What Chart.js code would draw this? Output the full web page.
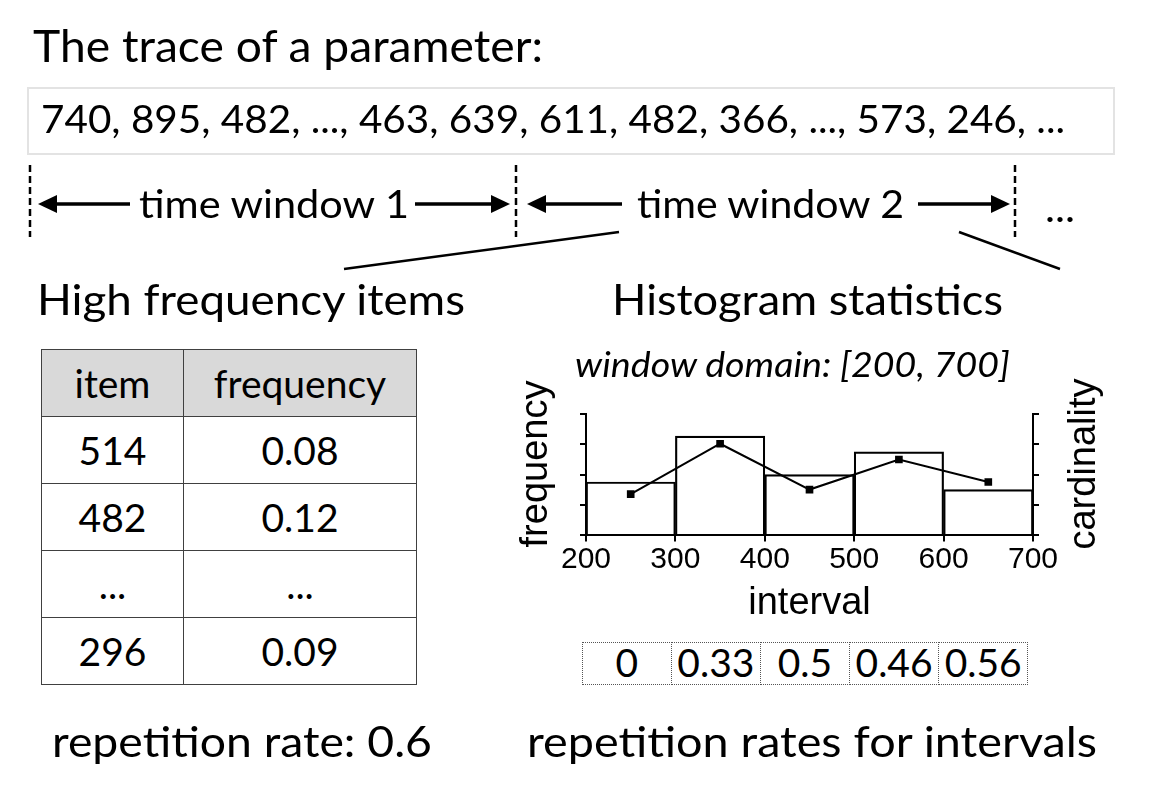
<!DOCTYPE html>
<html>
<head>
<meta charset="utf-8">
<script src="https://cdn.jsdelivr.net/npm/chart.js@4.4.0/dist/chart.umd.min.js"></script>
<style>
  html, body { margin: 0; padding: 0; background: #fff; }
  body { width: 1158px; height: 796px; position: relative; overflow: hidden;
         font-family: Lato, "Open Sans", sans-serif; color: #000; }
  .t { position: absolute; white-space: nowrap; line-height: 1; transform-origin: 0 0; }
  #traceBox { position: absolute; left: 27px; top: 87px; width: 1088px; height: 68px;
              border: 2px solid #e3e3e3; box-sizing: border-box; }
  #items { position: absolute; left: 41px; top: 349px; border-collapse: collapse; }
  #items td { border: 1.5px solid #404040; text-align: center; font-size: 39px;
              padding: 0; height: 66px; line-height: 1; }
  #items tr:first-child td { background: #d9d9d9; }
  #rates { position: absolute; left: 583px; top: 642px; display: flex; }
  #rates div { width: 90.6px; height: 43px; box-sizing: border-box; border: 1.5px dotted #555;
               margin-left: -1.5px; font-size: 39px; line-height: 1; display: flex;
               justify-content: center; align-items: flex-end; padding-bottom: 2px; }
  #chartBox { position: absolute; left: 500px; top: 340px; width: 620px; height: 290px; }
  svg { position: absolute; left: 0; top: 0; }
</style>
</head>
<body>
<div id="traceBox"></div>
<table id="items"></table>
<div id="rates"></div>
<div id="chartBox"><canvas id="histChart" width="620" height="290"></canvas></div>
<svg width="1158" height="796">
  <g stroke="#000" stroke-width="2.5" stroke-dasharray="7 4">
    <line x1="30" y1="165" x2="30" y2="237"/>
    <line x1="516" y1="165" x2="516" y2="237"/>
    <line x1="1015" y1="165" x2="1015" y2="237"/>
  </g>
  <g stroke="#000" stroke-width="3.5">
    <line x1="54" y1="204" x2="130" y2="204"/>
    <line x1="415" y1="204" x2="494" y2="204"/>
    <line x1="543" y1="204" x2="622" y2="204"/>
    <line x1="918" y1="204" x2="994" y2="204"/>
    <line x1="619" y1="232" x2="344" y2="269" stroke-width="2.5"/>
    <line x1="959" y1="232" x2="1060" y2="269" stroke-width="2.5"/>
  </g>
  <g fill="#000">
    <polygon points="38,204 57,195 57,213"/>
    <polygon points="510,204 491,195 491,213"/>
    <polygon points="527,204 546,195 546,213"/>
    <polygon points="1010,204 991,195 991,213"/>
  </g>
</svg>
<script>
// trace of the parameter
const traceValues = ['740', '895', '482', '...', '463', '639', '611', '482', '366', '...', '573', '246', '...'];

// high frequency items of window 2
const itemValues = ['514', '482', '...', '296'];
const itemFreqs = ['0.08', '0.12', '...', '0.09'];
const repetitionRate = '0.6';

// histogram of window 2
const intervalEdges = [200, 300, 400, 500, 600, 700];
const intervalMids = [250, 350, 450, 550, 650];
const frequency = [1.76, 3.27, 2.0, 2.75, 1.51];
const cardinality = [1.36, 3.02, 1.51, 2.5, 1.76];
const intervalRates = ['0', '0.33', '0.5', '0.46', '0.56'];

// free text: [text, left, baseline, font size, width, italic]
const labels = [
  ['The trace of a parameter:', 33, 62, 45, 510],
  [traceValues.join(', '), 41, 133, 39, 1024],
  ['time window 1', 139, 218, 39, 270],
  ['time window 2', 637, 218, 39, 267],
  ['...', 1045, 222, 39, 30],
  ['High frequency items', 37, 315, 43, 428],
  ['Histogram statistics', 612, 315, 43, 391],
  ['window domain: [200, 700]', 575, 377, 34, 435, true],
  ['repetition rate: ' + repetitionRate, 52, 757, 43, 380],
  ['repetition rates for intervals', 527, 757, 43, 570]
];

labels.forEach(([txt, x, base, size, w, italic]) => {
  const el = document.createElement('div');
  el.className = 't';
  el.textContent = txt;
  el.style.fontSize = size + 'px';
  if (italic) el.style.fontStyle = 'italic';
  el.style.left = x + 'px';
  el.style.top = '0px';
  document.body.appendChild(el);
  const probe = document.createElement('span');
  probe.style.cssText = 'display:inline-block;width:0;height:0;vertical-align:baseline';
  el.appendChild(probe);
  el.style.top = (base - probe.offsetTop) + 'px';
  el.style.transform = 'scaleX(' + (w / el.getBoundingClientRect().width) + ')';
});

// table
const table = document.getElementById('items');
[['item', 'frequency']].concat(itemValues.map((v, i) => [v, itemFreqs[i]])).forEach(row => {
  const tr = document.createElement('tr');
  row.forEach((c, j) => {
    const td = document.createElement('td');
    td.textContent = c;
    td.style.width = (j === 0 ? 141 : 232) + 'px';
    tr.appendChild(td);
  });
  table.appendChild(tr);
});

// repetition rates per interval
const rates = document.getElementById('rates');
intervalRates.forEach(r => {
  const d = document.createElement('div');
  d.textContent = r;
  rates.appendChild(d);
});

// side titles drawn bottom-to-top on both sides
const sideTitles = {
  id: 'sideTitles',
  afterDraw(chart) {
    const { ctx, chartArea: a } = chart;
    ctx.save();
    ctx.font = '38px "Liberation Sans", Arial, sans-serif';
    ctx.fillStyle = '#000';
    ctx.textAlign = 'center';
    ctx.textBaseline = 'alphabetic';
    [['frequency', a.left - 39], ['cardinality', a.right + 62]].forEach(([txt, x]) => {
      ctx.save();
      ctx.translate(x, a.top + 50);
      ctx.rotate(-Math.PI / 2);
      ctx.fillText(txt, 0, 0);
      ctx.restore();
    });
    ctx.restore();
  }
};

const axisFont = { family: '"Liberation Sans", Arial, sans-serif', size: 30 };
const sideAxis = (pos) => ({
  type: 'linear',
  position: pos,
  min: 0,
  max: 4,
  ticks: { display: false, stepSize: 1 },
  grid: { drawOnChartArea: false, tickLength: 6, color: '#000', lineWidth: 2 },
  border: { color: '#000', width: 2 }
});

const histCtx = document.getElementById('histChart').getContext('2d');
new Chart(histCtx, {
  type: 'bar',
  data: {
    datasets: [{
      type: 'line',
      label: 'cardinality',
      data: intervalMids.map((x, i) => ({ x: x, y: cardinality[i] })),
      yAxisID: 'y2',
      borderColor: '#000',
      borderWidth: 2,
      tension: 0,
      pointStyle: 'rect',
      pointRadius: 4,
      pointBackgroundColor: '#000',
      pointBorderColor: '#000',
      order: 0
    }, {
      type: 'bar',
      label: 'frequency',
      data: intervalMids.map((x, i) => ({ x: x, y: frequency[i] })),
      yAxisID: 'y',
      backgroundColor: 'rgba(255,255,255,0)',
      borderColor: '#000',
      borderWidth: 1.5,
      barPercentage: 1,
      categoryPercentage: 1,
      order: 1
    }]
  },
  options: {
    responsive: false,
    animation: false,
    layout: { padding: { left: 80, right: 81, top: 74, bottom: 4 } },
    plugins: {
      legend: { display: false },
      tooltip: { enabled: false }
    },
    scales: {
      x: {
        type: 'linear',
        offset: false,
        min: intervalEdges[0],
        max: intervalEdges[intervalEdges.length - 1],
        ticks: { stepSize: 100, padding: 0, color: '#000', font: axisFont },
        grid: { offset: false, drawOnChartArea: false, tickLength: 6, color: '#000', lineWidth: 2 },
        border: { color: '#000', width: 2 },
        title: {
          display: true,
          text: 'interval',
          color: '#000',
          font: { family: '"Liberation Sans", Arial, sans-serif', size: 38 },
          padding: { top: 3, bottom: 0 }
        }
      },
      y: sideAxis('left'),
      y2: sideAxis('right')
    }
  },
  plugins: [sideTitles]
});
</script>
</body>
</html>
